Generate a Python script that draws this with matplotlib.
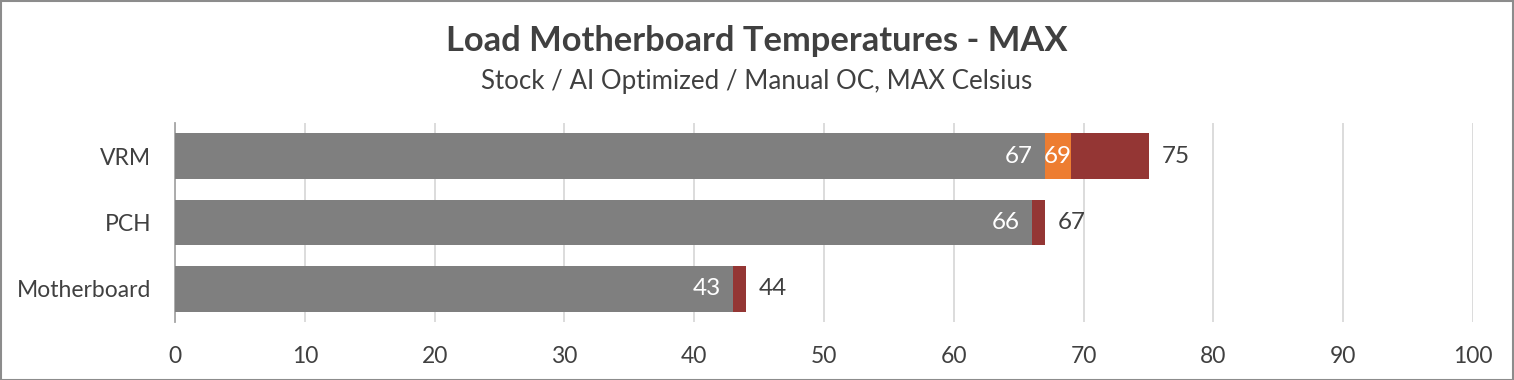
import matplotlib
matplotlib.use("Agg")
import matplotlib.pyplot as plt
from matplotlib.patches import Rectangle

categories = ["Motherboard", "PCH", "VRM"]
stock = [43, 66, 67]
ai_optimized = [43, 66, 69]
manual_oc = [44, 67, 75]
ai_label_shown = [False, False, True]
x_ticks = [0, 10, 20, 30, 40, 50, 60, 70, 80, 90, 100]

GREY, ORANGE, RED = "#7f7f7f", "#ed7d31", "#943634"
TXT = "#404040"
plt.rcParams.update({"font.family": "Lato"})

fig = plt.figure(figsize=(15.14, 3.80), dpi=100)
ax = fig.add_axes([175 / 1514, 1 - 322 / 380, 1298 / 1514, 199 / 380])

ys = list(range(len(categories)))
h = 0.69
ax.barh(ys, manual_oc, height=h, color=RED, zorder=2)
ax.barh(ys, ai_optimized, height=h, color=ORANGE, zorder=3)
ax.barh(ys, stock, height=h, color=GREY, zorder=4)

for y, s, a, o, show in zip(ys, stock, ai_optimized, manual_oc, ai_label_shown):
    ax.annotate(f"{s}", (s, y), xytext=(-12, 0), textcoords="offset pixels",
                ha="right", va="center", color="white", fontsize=17.5, zorder=6)
    if show:
        ax.annotate(f"{a}", (a, y), xytext=(1, 0), textcoords="offset pixels",
                    ha="right", va="center", color="white", fontsize=17.5, zorder=6)
    ax.annotate(f"{o}", (o, y), xytext=(13, 0), textcoords="offset pixels",
                ha="left", va="center", color=TXT, fontsize=17.5, zorder=6)

ax.set_xlim(0, 100)
ax.set_ylim(-0.5, 2.5)
ax.set_xticks(x_ticks)
ax.set_yticks(ys)
ax.set_yticklabels(categories)
ax.grid(True, axis="x", color="#d9d9d9", lw=1.3, zorder=0)
ax.set_axisbelow(True)
for s in ["top", "right", "bottom"]:
    ax.spines[s].set_visible(False)
ax.spines["left"].set_color("#a6a6a6")
ax.spines["left"].set_linewidth(1.3)
ax.tick_params(axis="both", length=0, labelsize=16.5, colors=TXT)
ax.tick_params(axis="x", pad=17)
ax.tick_params(axis="y", pad=17)

fig.text(0.5, 1 - 41 / 380, "Load Motherboard Temperatures - MAX", ha="center", va="center",
         fontsize=24.8, fontweight="bold", color=TXT)
fig.text(0.5, 1 - 81 / 380, "Stock / AI Optimized / Manual OC, MAX Celsius", ha="center", va="center",
         fontsize=18.6, color=TXT)

fig.patches.append(Rectangle((0.0005, 0.001), 0.999, 0.997, transform=fig.transFigure,
                             fill=False, edgecolor="#8c8c8c", lw=1.5))

fig.savefig("out.png", dpi=100, facecolor="white")
